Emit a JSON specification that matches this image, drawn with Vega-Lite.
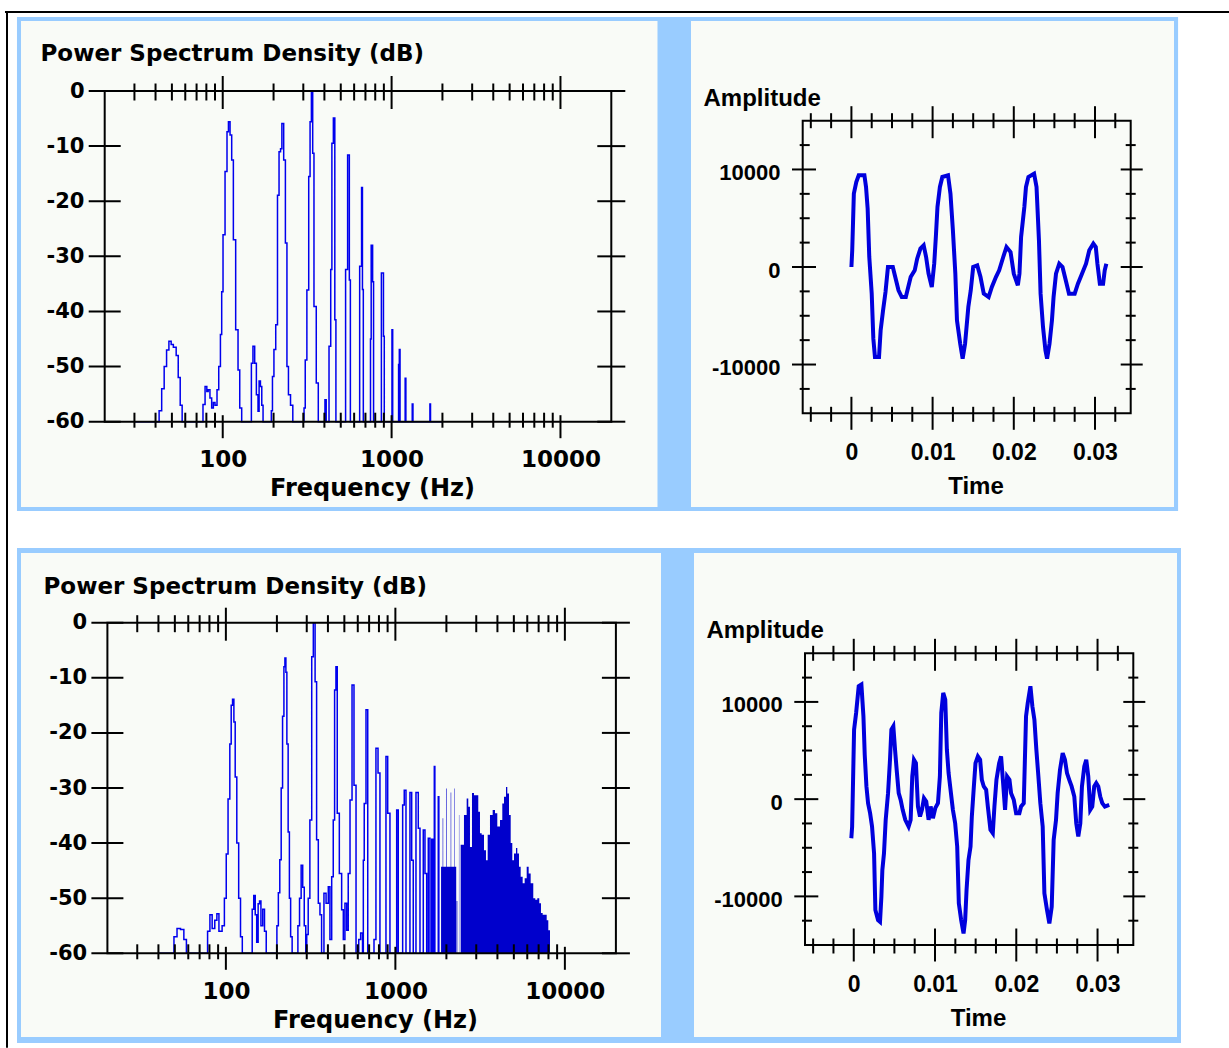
{
"$schema":"https://vega.github.io/schema/vega-lite/v6.json",
"width":1229,"height":1048,"padding":0,"autosize":{"type":"none"},"background":"white",
"config":{"view":{"stroke":null},"axis":{"grid":false,"domain":false,"ticks":false,"labelColor":"black","titleColor":"black","labelFlush":false,"labelOverlap":false,"labelBound":false,"labelFontWeight":"bold","titleFontWeight":"bold"}},
"datasets":{
"psd1":[{"f":30,"db":-60},{"f":42,"db":-58},{"f":43.5,"db":-54},{"f":45,"db":-50},{"f":46.5,"db":-47},{"f":48,"db":-45.4},{"f":49.5,"db":-46},{"f":51,"db":-46.5},{"f":53,"db":-48},{"f":54.5,"db":-52},{"f":56,"db":-57},{"f":57.5,"db":-60},{"f":76.4,"db":-56.9},{"f":78.6,"db":-53.6},{"f":80.5,"db":-54.5},{"f":82,"db":-54.2},{"f":84,"db":-55.7},{"f":86,"db":-57.5},{"f":88,"db":-56.5},{"f":90,"db":-57},{"f":92.5,"db":-54.2},{"f":94.7,"db":-50},{"f":96.9,"db":-44.2},{"f":98.6,"db":-36.4},{"f":100.4,"db":-26.1},{"f":103.2,"db":-14.6},{"f":106,"db":-7.4},{"f":108.1,"db":-5.6},{"f":110.5,"db":-8},{"f":113,"db":-12.5},{"f":115.6,"db":-27},{"f":119.3,"db":-43.3},{"f":123.2,"db":-50.6},{"f":126.1,"db":-57.5},{"f":129.5,"db":-60},{"f":147.8,"db":-49.4},{"f":151,"db":-46.3},{"f":154.6,"db":-49.4},{"f":158.2,"db":-55.1},{"f":161.8,"db":-58.1},{"f":164.2,"db":-52.6},{"f":167.2,"db":-53.6},{"f":170.3,"db":-57},{"f":173.3,"db":-60},{"f":194,"db":-58},{"f":197,"db":-51.8},{"f":201,"db":-46.9},{"f":206,"db":-42.4},{"f":211,"db":-18.9},{"f":215.5,"db":-11},{"f":220,"db":-10.5},{"f":224,"db":-5.9},{"f":229.6,"db":-12.5},{"f":235,"db":-27.6},{"f":240,"db":-50},{"f":245,"db":-55.1},{"f":252,"db":-57},{"f":260,"db":-60},{"f":303,"db":-57.5},{"f":308,"db":-48.8},{"f":315,"db":-36.1},{"f":323,"db":-15.5},{"f":329,"db":-5.6},{"f":335,"db":0},{"f":341,"db":-11.3},{"f":347,"db":-39.1},{"f":358,"db":-53},{"f":368,"db":-60},{"f":403,"db":-56},{"f":410,"db":-60},{"f":426,"db":-46.3},{"f":436,"db":-32.4},{"f":443,"db":-9.5},{"f":452,"db":-4.9},{"f":461,"db":-41.5},{"f":468,"db":-60},{"f":534,"db":-32.4},{"f":549,"db":-11.6},{"f":562,"db":-34.3},{"f":570,"db":-60},{"f":647,"db":-31.8},{"f":664,"db":-17.5},{"f":672,"db":-36},{"f":680,"db":-60},{"f":750,"db":-45},{"f":757,"db":-28},{"f":772,"db":-34.6},{"f":782,"db":-60},{"f":870,"db":-33},{"f":895,"db":-44.5},{"f":905,"db":-60},{"f":1005,"db":-43.3},{"f":1015,"db":-60},{"f":1100,"db":-49.6},{"f":1111,"db":-46.9},{"f":1122,"db":-60},{"f":1203,"db":-52.1},{"f":1215,"db":-60},{"f":1325,"db":-56.8},{"f":1338,"db":-60},{"f":1686,"db":-56.8},{"f":1700,"db":-60},{"f":2000,"db":-60}],
"psd2":[{"f":40,"db":-60},{"f":49.4,"db":-57},{"f":51.5,"db":-55.5},{"f":54,"db":-55.7},{"f":56.5,"db":-57.5},{"f":58.5,"db":-60},{"f":78,"db":-56},{"f":80.5,"db":-53},{"f":83,"db":-55.5},{"f":86,"db":-54},{"f":88.5,"db":-52.8},{"f":91,"db":-56},{"f":95,"db":-55},{"f":98,"db":-50},{"f":100.5,"db":-42},{"f":103,"db":-32},{"f":105.5,"db":-22},{"f":107.5,"db":-15},{"f":109.5,"db":-13.9},{"f":111.5,"db":-18},{"f":113.5,"db":-28},{"f":116,"db":-40},{"f":119,"db":-50},{"f":122,"db":-57},{"f":125,"db":-60},{"f":143,"db":-52},{"f":146,"db":-49.5},{"f":149,"db":-53},{"f":152,"db":-58},{"f":155,"db":-51},{"f":158,"db":-50.5},{"f":161,"db":-55},{"f":165,"db":-52},{"f":169,"db":-56},{"f":173,"db":-60},{"f":200,"db":-55},{"f":204,"db":-49},{"f":208,"db":-43},{"f":212,"db":-30},{"f":216,"db":-17},{"f":220,"db":-8},{"f":223,"db":-6.4},{"f":226,"db":-9},{"f":229,"db":-22},{"f":233,"db":-38},{"f":237,"db":-50},{"f":241,"db":-57},{"f":246,"db":-60},{"f":266,"db":-55},{"f":272,"db":-50},{"f":278,"db":-44},{"f":284,"db":-48},{"f":290,"db":-55},{"f":296,"db":-60},{"f":300,"db":-56.6},{"f":306,"db":-50},{"f":313,"db":-35.8},{"f":321,"db":-6.2},{"f":328,"db":0},{"f":336,"db":-10.7},{"f":343,"db":-39.4},{"f":351,"db":-50.9},{"f":359,"db":-53},{"f":367,"db":-60},{"f":379,"db":-49.1},{"f":390,"db":-50.9},{"f":402,"db":-47.9},{"f":411,"db":-57.5},{"f":421,"db":-46.1},{"f":430,"db":-35.8},{"f":438,"db":-12.2},{"f":446,"db":-8},{"f":454,"db":-34.6},{"f":467,"db":-45.5},{"f":482,"db":-52.1},{"f":493,"db":-57.5},{"f":504,"db":-50.9},{"f":516,"db":-55.8},{"f":527,"db":-45.5},{"f":540,"db":-32.2},{"f":555,"db":-11.3},{"f":570,"db":-29.5},{"f":586,"db":-60},{"f":608,"db":-57.5},{"f":624,"db":-56.3},{"f":640,"db":-60},{"f":647,"db":-43.1},{"f":655,"db":-32.8},{"f":671,"db":-15.8},{"f":687,"db":-60},{"f":748,"db":-57.5},{"f":768,"db":-22.8},{"f":790,"db":-27.3},{"f":811,"db":-60},{"f":880,"db":-24.3},{"f":901,"db":-34.6},{"f":929,"db":-60},{"f":1018,"db":-34},{"f":1040,"db":-60},{"f":1104,"db":-33.1},{"f":1128,"db":-30.4},{"f":1155,"db":-60},{"f":1219,"db":-30.8},{"f":1248,"db":-43.1},{"f":1275,"db":-60},{"f":1323,"db":-30.8},{"f":1365,"db":-37.3},{"f":1397,"db":-60},{"f":1461,"db":-37.6},{"f":1495,"db":-45.5},{"f":1530,"db":-60},{"f":1564,"db":-39.1},{"f":1600,"db":-60},{"f":1638,"db":-39.3},{"f":1670,"db":-60},{"f":1697,"db":-26.1},{"f":1710,"db":-60},{"f":1791,"db":-31.6},{"f":1805,"db":-60},{"f":1860,"db":-60}],
"psd2dense":[{"f":1860,"db":-44.3},{"f":1901,"db":-35.5},{"f":1915,"db":-44.3},{"f":1989,"db":-30.1},{"f":2005,"db":-44.3},{"f":2120,"db":-30.8},{"f":2135,"db":-44.3},{"f":2226,"db":-30.1},{"f":2240,"db":-44.3},{"f":2285,"db":-60},{"f":2299,"db":-50.5},{"f":2320,"db":-60},{"f":2372,"db":-34.9},{"f":2382,"db":-60},{"f":2428,"db":-40.3},{"f":2461,"db":-40.3},{"f":2539,"db":-34.9},{"f":2634,"db":-31.9},{"f":2692,"db":-33.4},{"f":2755,"db":-40.7},{"f":2831,"db":-30.9},{"f":2909,"db":-31.3},{"f":2989,"db":-31.3},{"f":3084,"db":-34.3},{"f":3156,"db":-38.2},{"f":3229,"db":-38.5},{"f":3333,"db":-41.3},{"f":3424,"db":-43.1},{"f":3504,"db":-38.5},{"f":3615,"db":-34.9},{"f":3750,"db":-34.0},{"f":3870,"db":-34.6},{"f":3993,"db":-37.0},{"f":4142,"db":-35.8},{"f":4274,"db":-32.8},{"f":4373,"db":-31.6},{"f":4494,"db":-29.8},{"f":4574,"db":-31.0},{"f":4681,"db":-34.9},{"f":4790,"db":-40.0},{"f":4896,"db":-43.1},{"f":5010,"db":-41.9},{"f":5148,"db":-40.9},{"f":5240,"db":-41.9},{"f":5361,"db":-44.3},{"f":5486,"db":-46.1},{"f":5636,"db":-47.3},{"f":5792,"db":-46.4},{"f":5953,"db":-44.3},{"f":6114,"db":-45.5},{"f":6283,"db":-47.3},{"f":6510,"db":-50.0},{"f":6690,"db":-50.3},{"f":6875,"db":-50.0},{"f":7063,"db":-50.9},{"f":7228,"db":-52.7},{"f":7396,"db":-53.0},{"f":7603,"db":-53.0},{"f":7812,"db":-54.0},{"f":7985,"db":-55.8},{"f":8170,"db":-60}],
"wave1":[{"t":0,"a":0},{"t":0.0001,"a":1710},{"t":0.0002,"a":4616},{"t":0.0003,"a":7522},{"t":0.0006,"a":8718},{"t":0.0009,"a":9402},{"t":0.0016,"a":9402},{"t":0.0018,"a":8206},{"t":0.002,"a":5983},{"t":0.0022,"a":1026},{"t":0.0025,"a":-2735},{"t":0.0027,"a":-7351},{"t":0.0029,"a":-9231},{"t":0.0034,"a":-9231},{"t":0.0036,"a":-6496},{"t":0.0039,"a":-4445},{"t":0.0042,"a":-2564},{"t":0.0045,"a":0},{"t":0.0051,"a":0},{"t":0.0054,"a":-1026},{"t":0.0058,"a":-2393},{"t":0.0062,"a":-3077},{"t":0.0067,"a":-3077},{"t":0.007,"a":-2051},{"t":0.0073,"a":-1026},{"t":0.0078,"a":-342},{"t":0.0081,"a":855},{"t":0.0085,"a":1880},{"t":0.0089,"a":2222},{"t":0.0092,"a":1026},{"t":0.0095,"a":-684},{"t":0.0099,"a":-2051},{"t":0.0102,"a":342},{"t":0.0104,"a":3077},{"t":0.0106,"a":6154},{"t":0.0109,"a":8206},{"t":0.0112,"a":9231},{"t":0.0119,"a":9402},{"t":0.0122,"a":7522},{"t":0.0125,"a":3761},{"t":0.0128,"a":-684},{"t":0.013,"a":-5470},{"t":0.0134,"a":-7864},{"t":0.0137,"a":-9402},{"t":0.014,"a":-7864},{"t":0.0144,"a":-4103},{"t":0.0147,"a":-2393},{"t":0.015,"a":0},{"t":0.0155,"a":171},{"t":0.0159,"a":-1026},{"t":0.0163,"a":-2735},{"t":0.0169,"a":-3077},{"t":0.0173,"a":-2051},{"t":0.0178,"a":-1026},{"t":0.0182,"a":-342},{"t":0.0187,"a":1026},{"t":0.0191,"a":2051},{"t":0.0196,"a":1539},{"t":0.02,"a":-684},{"t":0.0205,"a":-1880},{"t":0.0207,"a":-684},{"t":0.0209,"a":3077},{"t":0.0213,"a":6154},{"t":0.0215,"a":8206},{"t":0.0218,"a":9231},{"t":0.0225,"a":9573},{"t":0.0228,"a":8206},{"t":0.0231,"a":2735},{"t":0.0233,"a":-2735},{"t":0.0236,"a":-6154},{"t":0.0239,"a":-8548},{"t":0.0241,"a":-9402},{"t":0.0244,"a":-7864},{"t":0.0247,"a":-5470},{"t":0.0249,"a":-3077},{"t":0.0252,"a":-684},{"t":0.0256,"a":342},{"t":0.026,"a":0},{"t":0.0264,"a":-1368},{"t":0.0268,"a":-2735},{"t":0.0275,"a":-2735},{"t":0.0279,"a":-1710},{"t":0.0284,"a":-684},{"t":0.0289,"a":342},{"t":0.0293,"a":1710},{"t":0.0298,"a":2393},{"t":0.0301,"a":2051},{"t":0.0303,"a":342},{"t":0.0306,"a":-1710},{"t":0.031,"a":-1710},{"t":0.0312,"a":-342},{"t":0.0314,"a":342}],
"wave2":[{"t":-0.0003,"a":-4020},{"t":-0.0002,"a":-2818},{"t":0.00004,"a":7147},{"t":0.00029,"a":8865},{"t":0.00061,"a":11614},{"t":0.00094,"a":11785},{"t":0.00119,"a":8521},{"t":0.00135,"a":4570},{"t":0.00156,"a":1306},{"t":0.00176,"a":-412},{"t":0.00201,"a":-1443},{"t":0.00225,"a":-2818},{"t":0.0025,"a":-5566},{"t":0.00266,"a":-11407},{"t":0.00299,"a":-12438},{"t":0.00323,"a":-12610},{"t":0.0034,"a":-10033},{"t":0.00352,"a":-7284},{"t":0.00372,"a":-5566},{"t":0.00393,"a":-2130},{"t":0.00422,"a":618},{"t":0.00446,"a":4054},{"t":0.00463,"a":7147},{"t":0.00487,"a":7490},{"t":0.00508,"a":5085},{"t":0.00528,"a":3024},{"t":0.00553,"a":618},{"t":0.00577,"a":-69},{"t":0.00602,"a":-1100},{"t":0.00634,"a":-2130},{"t":0.00675,"a":-2818},{"t":0.007,"a":-2130},{"t":0.0072,"a":2336},{"t":0.00741,"a":4054},{"t":0.00765,"a":3711},{"t":0.0079,"a":-756},{"t":0.00815,"a":-1787},{"t":0.00839,"a":-1100},{"t":0.00864,"a":103},{"t":0.00892,"a":-241},{"t":0.00921,"a":-2130},{"t":0.00946,"a":-756},{"t":0.00974,"a":-1958},{"t":0.01003,"a":-928},{"t":0.01036,"a":-412},{"t":0.0106,"a":2336},{"t":0.01077,"a":8865},{"t":0.01101,"a":10927},{"t":0.01126,"a":10240},{"t":0.01146,"a":5085},{"t":0.01167,"a":2680},{"t":0.01191,"a":962},{"t":0.0122,"a":-1100},{"t":0.01248,"a":-2474},{"t":0.01273,"a":-4879},{"t":0.01293,"a":-10720},{"t":0.01322,"a":-12438},{"t":0.01351,"a":-13813},{"t":0.01371,"a":-12438},{"t":0.01388,"a":-9346},{"t":0.01412,"a":-6254},{"t":0.01437,"a":-4879},{"t":0.01453,"a":-1787},{"t":0.01478,"a":1306},{"t":0.01498,"a":3711},{"t":0.01527,"a":4398},{"t":0.01555,"a":4054},{"t":0.01576,"a":1993},{"t":0.016,"a":1306},{"t":0.01629,"a":962},{"t":0.0165,"a":-756},{"t":0.01682,"a":-3161},{"t":0.01711,"a":-3505},{"t":0.01731,"a":-756},{"t":0.01756,"a":1993},{"t":0.01789,"a":3711},{"t":0.01813,"a":4398},{"t":0.01838,"a":1649},{"t":0.01862,"a":-1100},{"t":0.01887,"a":2336},{"t":0.01916,"a":1993},{"t":0.01936,"a":618},{"t":0.01969,"a":-69},{"t":0.01998,"a":-1443},{"t":0.02038,"a":-1443},{"t":0.02059,"a":-756},{"t":0.02092,"a":-412},{"t":0.0212,"a":8521},{"t":0.02141,"a":9896},{"t":0.02174,"a":11614},{"t":0.02198,"a":9552},{"t":0.02223,"a":8178},{"t":0.02247,"a":5085},{"t":0.02272,"a":2336},{"t":0.02296,"a":-412},{"t":0.02325,"a":-2818},{"t":0.02346,"a":-9689},{"t":0.02378,"a":-11407},{"t":0.02407,"a":-12782},{"t":0.02436,"a":-11064},{"t":0.0246,"a":-4192},{"t":0.02489,"a":-2130},{"t":0.02509,"a":618},{"t":0.02538,"a":3024},{"t":0.02571,"a":4742},{"t":0.02599,"a":4054},{"t":0.02624,"a":2680},{"t":0.02652,"a":1993},{"t":0.02681,"a":1306},{"t":0.02714,"a":275},{"t":0.02738,"a":-2474},{"t":0.02763,"a":-3848},{"t":0.02788,"a":-2474},{"t":0.02808,"a":1306},{"t":0.02837,"a":3367},{"t":0.02861,"a":4054},{"t":0.02886,"a":2336},{"t":0.0291,"a":-1100},{"t":0.02935,"a":-756},{"t":0.02959,"a":1306},{"t":0.02984,"a":1649},{"t":0.03009,"a":1306},{"t":0.03033,"a":275},{"t":0.03058,"a":-412},{"t":0.0309,"a":-756},{"t":0.03144,"a":-584}],
"logMinor":[{"f":30},{"f":40},{"f":50},{"f":60},{"f":70},{"f":80},{"f":90},{"f":200},{"f":300},{"f":400},{"f":500},{"f":600},{"f":700},{"f":800},{"f":900},{"f":2000},{"f":3000},{"f":4000},{"f":5000},{"f":6000},{"f":7000},{"f":8000},{"f":9000}],
"logMajor":[{"f":100},{"f":1000},{"f":10000}],
"dbTicks":[{"db":0},{"db":-10},{"db":-20},{"db":-30},{"db":-40},{"db":-50},{"db":-60}],
"tMajor":[{"t":0},{"t":0.01},{"t":0.02},{"t":0.03}],
"tMinor":[{"t":-0.005},{"t":-0.0025},{"t":0.0025},{"t":0.005},{"t":0.0075},{"t":0.0125},{"t":0.015},{"t":0.0175},{"t":0.0225},{"t":0.025},{"t":0.0275},{"t":0.0325}],
"aMajor":[{"a":-10000},{"a":0},{"a":10000}],
"aMinor":[{"a":-12500},{"a":-7500},{"a":-5000},{"a":-2500},{"a":2500},{"a":5000},{"a":7500},{"a":12500}]
},
"resolve":{"scale":{"x":"independent","y":"independent"},"axis":{"x":"independent","y":"independent"}},
"layer":[
{"layer":[
{"data":{"values":[{}]},"mark":{"type":"rect","fill":"#99ccff"},"encoding":{"x":{"datum":6.048,"type":"quantitative","scale":{"type":"log","domain":[20,20000],"range":[104.7,611.3],"nice":false}},"x2":{"datum":45440000},"y":{"datum":13.43,"type":"quantitative","scale":{"domain":[-60,0],"range":[421.7,91],"nice":false,"zero":false}},"y2":{"datum":-76.2}}},
{"data":{"values":[{}]},"mark":{"type":"rect","fill":"#f9fbf7"},"encoding":{"x":{"datum":6.389,"type":"quantitative","scale":{"type":"log","domain":[20,20000],"range":[104.7,611.3],"nice":false}},"x2":{"datum":37545},"y":{"datum":12.7,"type":"quantitative","scale":{"domain":[-60,0],"range":[421.7,91],"nice":false,"zero":false}},"y2":{"datum":-75.48}}},
{"data":{"values":[{}]},"mark":{"type":"rule","color":"black","strokeWidth":2},"encoding":{"x":{"datum":5.135,"type":"quantitative","scale":{"type":"log","domain":[20,20000],"range":[104.7,611.3],"nice":false}},"x2":{"datum":91000000},"y":{"datum":14.33,"type":"quantitative","scale":{"domain":[-60,0],"range":[421.7,91],"nice":false,"zero":false}}}},
{"data":{"values":[{}]},"mark":{"type":"rule","color":"black","strokeWidth":2},"encoding":{"x":{"datum":5.278,"type":"quantitative","scale":{"type":"log","domain":[20,20000],"range":[104.7,611.3],"nice":false}},"y":{"datum":14.51,"type":"quantitative","scale":{"domain":[-60,0],"range":[421.7,91],"nice":false,"zero":false}},"y2":{"datum":-173.6}}},
{"data":{"name":"psd1"},"mark":{"type":"line","interpolate":"step-after","color":"#0000ee","strokeWidth":1.5},"encoding":{"x":{"field":"f","type":"quantitative","scale":{"type":"log","domain":[20,20000],"range":[104.7,611.3],"nice":false},"axis":{"zindex":2,"orient":"bottom","offset":-626.3,"values":[100,1000,10000],"labelExpr":"toString(datum.value)","labelFont":"DejaVu Sans","labelFontSize":23,"labelPadding":27,"labelBaseline":"top","labelAlign":"center","title":"Frequency (Hz)","titleFont":"DejaVu Sans","titleFontSize":24,"titleX":372,"titleY":74,"titleAlign":"center","titleBaseline":"alphabetic","titleAngle":0}},"y":{"field":"db","type":"quantitative","scale":{"domain":[-60,0],"range":[421.7,91],"nice":false,"zero":false},"axis":{"zindex":2,"orient":"left","offset":-104.7,"values":[0,-10,-20,-30,-40,-50,-60],"labelExpr":"toString(datum.value)","labelFont":"DejaVu Sans","labelFontSize":21,"labelPadding":20.7,"labelAlign":"right","labelBaseline":"middle","title":"Power Spectrum Density (dB)","titleFont":"DejaVu Sans","titleFontSize":23,"titleAngle":0,"titleX":-64.7,"titleY":60,"titleAlign":"left","titleBaseline":"alphabetic"}}}},
{"data":{"values":[{}]},"mark":{"type":"rect","fillOpacity":0,"stroke":"black","strokeWidth":2},"encoding":{"x":{"datum":20,"type":"quantitative","scale":{"type":"log","domain":[20,20000],"range":[104.7,611.3],"nice":false}},"x2":{"datum":20000},"y":{"datum":-60,"type":"quantitative","scale":{"domain":[-60,0],"range":[421.7,91],"nice":false,"zero":false}},"y2":{"datum":0}}},
{"data":{"name":"dbTicks"},"mark":{"type":"tick","orient":"horizontal","size":32,"thickness":2,"color":"black","opacity":1},"encoding":{"x":{"datum":20,"type":"quantitative","scale":{"type":"log","domain":[20,20000],"range":[104.7,611.3],"nice":false}},"y":{"field":"db","type":"quantitative","scale":{"domain":[-60,0],"range":[421.7,91],"nice":false,"zero":false}}}},
{"data":{"name":"dbTicks"},"mark":{"type":"tick","orient":"horizontal","size":28,"thickness":2,"color":"black","opacity":1},"encoding":{"x":{"datum":20000,"type":"quantitative","scale":{"type":"log","domain":[20,20000],"range":[104.7,611.3],"nice":false}},"y":{"field":"db","type":"quantitative","scale":{"domain":[-60,0],"range":[421.7,91],"nice":false,"zero":false}}}},
{"data":{"name":"logMinor"},"mark":{"type":"tick","orient":"vertical","size":17,"thickness":2,"color":"black","opacity":1,"yOffset":1},"encoding":{"x":{"field":"f","type":"quantitative","scale":{"type":"log","domain":[20,20000],"range":[104.7,611.3],"nice":false}},"y":{"datum":0,"type":"quantitative","scale":{"domain":[-60,0],"range":[421.7,91],"nice":false,"zero":false}}}},
{"data":{"name":"logMajor"},"mark":{"type":"tick","orient":"vertical","size":33,"thickness":2,"color":"black","opacity":1,"yOffset":1.5},"encoding":{"x":{"field":"f","type":"quantitative","scale":{"type":"log","domain":[20,20000],"range":[104.7,611.3],"nice":false}},"y":{"datum":0,"type":"quantitative","scale":{"domain":[-60,0],"range":[421.7,91],"nice":false,"zero":false}}}},
{"data":{"name":"logMinor"},"mark":{"type":"tick","orient":"vertical","size":15,"thickness":2,"color":"black","opacity":1,"yOffset":-1.5},"encoding":{"x":{"field":"f","type":"quantitative","scale":{"type":"log","domain":[20,20000],"range":[104.7,611.3],"nice":false}},"y":{"datum":-60,"type":"quantitative","scale":{"domain":[-60,0],"range":[421.7,91],"nice":false,"zero":false}}}},
{"data":{"name":"logMajor"},"mark":{"type":"tick","orient":"vertical","size":23,"thickness":2,"color":"black","opacity":1,"yOffset":5},"encoding":{"x":{"field":"f","type":"quantitative","scale":{"type":"log","domain":[20,20000],"range":[104.7,611.3],"nice":false}},"y":{"datum":-60,"type":"quantitative","scale":{"domain":[-60,0],"range":[421.7,91],"nice":false,"zero":false}}}}
]},
{"layer":[
{"data":{"values":[{}]},"mark":{"type":"rect","fill":"#f9fbf7"},"encoding":{"x":{"datum":-0.019758,"type":"quantitative","scale":{"domain":[-0.006,0.0344],"range":[802.7,1130.7],"nice":false,"zero":false}},"x2":{"datum":0.039733},"y":{"datum":25222,"type":"quantitative","scale":{"domain":[-15000,15000],"range":[413.3,120.7],"nice":false,"zero":false}},"y2":{"datum":-24607}}},
{"data":{"name":"wave1"},"mark":{"type":"line","color":"#0000dd","strokeWidth":4},"encoding":{"x":{"field":"t","type":"quantitative","scale":{"domain":[-0.006,0.0344],"range":[802.7,1130.7],"nice":false,"zero":false},"axis":{"zindex":2,"orient":"bottom","offset":-634.7,"values":[0,0.01,0.02,0.03],"labelExpr":"toString(datum.value)","labelFont":"Liberation Sans","labelFontSize":23,"labelPadding":28.3,"labelBaseline":"top","labelAlign":"center","title":"Time","titleFont":"Liberation Sans","titleFontSize":24,"titleX":975.5,"titleY":80,"titleAlign":"center","titleBaseline":"alphabetic","titleAngle":0}},"y":{"field":"a","type":"quantitative","scale":{"domain":[-15000,15000],"range":[413.3,120.7],"nice":false,"zero":false},"axis":{"zindex":2,"orient":"left","offset":-802.7,"values":[-10000,0,10000],"labelExpr":"toString(datum.value)","labelFont":"Liberation Sans","labelFontSize":22,"labelPadding":22.7,"labelOffset":3,"labelAlign":"right","labelBaseline":"middle","title":"Amplitude","titleFont":"Liberation Sans","titleFontSize":24,"titleAngle":0,"titleX":-99.7,"titleY":105,"titleAlign":"left","titleBaseline":"alphabetic"}}}},
{"data":{"values":[{}]},"mark":{"type":"rect","fillOpacity":0,"stroke":"black","strokeWidth":2},"encoding":{"x":{"datum":-0.006,"type":"quantitative","scale":{"domain":[-0.006,0.0344],"range":[802.7,1130.7],"nice":false,"zero":false}},"x2":{"datum":0.0344},"y":{"datum":-15000,"type":"quantitative","scale":{"domain":[-15000,15000],"range":[413.3,120.7],"nice":false,"zero":false}},"y2":{"datum":15000}}},
{"data":{"name":"tMajor"},"mark":{"type":"tick","orient":"vertical","size":32,"thickness":2,"color":"black","opacity":1,"yOffset":1.5},"encoding":{"x":{"field":"t","type":"quantitative","scale":{"domain":[-0.006,0.0344],"range":[802.7,1130.7],"nice":false,"zero":false}},"y":{"datum":15000,"type":"quantitative","scale":{"domain":[-15000,15000],"range":[413.3,120.7],"nice":false,"zero":false}}}},
{"data":{"name":"tMinor"},"mark":{"type":"tick","orient":"vertical","size":15,"thickness":2,"color":"black","opacity":1},"encoding":{"x":{"field":"t","type":"quantitative","scale":{"domain":[-0.006,0.0344],"range":[802.7,1130.7],"nice":false,"zero":false}},"y":{"datum":15000,"type":"quantitative","scale":{"domain":[-15000,15000],"range":[413.3,120.7],"nice":false,"zero":false}}}},
{"data":{"name":"tMajor"},"mark":{"type":"tick","orient":"vertical","size":33,"thickness":2,"color":"black","opacity":1},"encoding":{"x":{"field":"t","type":"quantitative","scale":{"domain":[-0.006,0.0344],"range":[802.7,1130.7],"nice":false,"zero":false}},"y":{"datum":-15000,"type":"quantitative","scale":{"domain":[-15000,15000],"range":[413.3,120.7],"nice":false,"zero":false}}}},
{"data":{"name":"tMinor"},"mark":{"type":"tick","orient":"vertical","size":15,"thickness":2,"color":"black","opacity":1,"yOffset":1},"encoding":{"x":{"field":"t","type":"quantitative","scale":{"domain":[-0.006,0.0344],"range":[802.7,1130.7],"nice":false,"zero":false}},"y":{"datum":-15000,"type":"quantitative","scale":{"domain":[-15000,15000],"range":[413.3,120.7],"nice":false,"zero":false}}}},
{"data":{"name":"aMajor"},"mark":{"type":"tick","orient":"horizontal","size":24,"thickness":2,"color":"black","opacity":1,"xOffset":1.3},"encoding":{"x":{"datum":-0.006,"type":"quantitative","scale":{"domain":[-0.006,0.0344],"range":[802.7,1130.7],"nice":false,"zero":false}},"y":{"field":"a","type":"quantitative","scale":{"domain":[-15000,15000],"range":[413.3,120.7],"nice":false,"zero":false}}}},
{"data":{"name":"aMinor"},"mark":{"type":"tick","orient":"horizontal","size":10,"thickness":2,"color":"black","opacity":1,"xOffset":2},"encoding":{"x":{"datum":-0.006,"type":"quantitative","scale":{"domain":[-0.006,0.0344],"range":[802.7,1130.7],"nice":false,"zero":false}},"y":{"field":"a","type":"quantitative","scale":{"domain":[-15000,15000],"range":[413.3,120.7],"nice":false,"zero":false}}}},
{"data":{"name":"aMajor"},"mark":{"type":"tick","orient":"horizontal","size":22,"thickness":2,"color":"black","opacity":1,"xOffset":1},"encoding":{"x":{"datum":0.0344,"type":"quantitative","scale":{"domain":[-0.006,0.0344],"range":[802.7,1130.7],"nice":false,"zero":false}},"y":{"field":"a","type":"quantitative","scale":{"domain":[-15000,15000],"range":[413.3,120.7],"nice":false,"zero":false}}}},
{"data":{"name":"aMinor"},"mark":{"type":"tick","orient":"horizontal","size":10,"thickness":2,"color":"black","opacity":1},"encoding":{"x":{"datum":0.0344,"type":"quantitative","scale":{"domain":[-0.006,0.0344],"range":[802.7,1130.7],"nice":false,"zero":false}},"y":{"field":"a","type":"quantitative","scale":{"domain":[-15000,15000],"range":[413.3,120.7],"nice":false,"zero":false}}}}
]},
{"layer":[
{"data":{"values":[{}]},"mark":{"type":"rect","fill":"#99ccff"},"encoding":{"x":{"datum":5.858,"type":"quantitative","scale":{"type":"log","domain":[20,20000],"range":[107.4,615.9],"nice":false}},"x2":{"datum":43130000},"y":{"datum":13.56,"type":"quantitative","scale":{"domain":[-60,0],"range":[953.3,622.7],"nice":false,"zero":false}},"y2":{"datum":-76.28}}},
{"data":{"values":[{}]},"mark":{"type":"rect","fill":"#f9fbf7"},"encoding":{"x":{"datum":6.184,"type":"quantitative","scale":{"type":"log","domain":[20,20000],"range":[107.4,615.9],"nice":false}},"x2":{"datum":36910},"y":{"datum":12.65,"type":"quantitative","scale":{"domain":[-60,0],"range":[953.3,622.7],"nice":false,"zero":false}},"y2":{"datum":-75.19}}},
{"data":{"name":"psd2dense"},"mark":{"type":"area","interpolate":"step-after","color":"#0000cc"},"encoding":{"x":{"field":"f","type":"quantitative","scale":{"type":"log","domain":[20,20000],"range":[107.4,615.9],"nice":false}},"y":{"field":"db","type":"quantitative","scale":{"domain":[-60,0],"range":[953.3,622.7],"nice":false,"zero":false}},"y2":{"datum":-60}}},
{"data":{"name":"psd2"},"mark":{"type":"line","interpolate":"step-after","color":"#0000ee","strokeWidth":1.5},"encoding":{"x":{"field":"f","type":"quantitative","scale":{"type":"log","domain":[20,20000],"range":[107.4,615.9],"nice":false},"axis":{"zindex":2,"orient":"bottom","offset":-94.7,"values":[100,1000,10000],"labelExpr":"toString(datum.value)","labelFont":"DejaVu Sans","labelFontSize":23,"labelPadding":27,"labelBaseline":"top","labelAlign":"center","title":"Frequency (Hz)","titleFont":"DejaVu Sans","titleFontSize":24,"titleX":375,"titleY":74,"titleAlign":"center","titleBaseline":"alphabetic","titleAngle":0}},"y":{"field":"db","type":"quantitative","scale":{"domain":[-60,0],"range":[953.3,622.7],"nice":false,"zero":false},"axis":{"zindex":2,"orient":"left","offset":-107.4,"values":[0,-10,-20,-30,-40,-50,-60],"labelExpr":"toString(datum.value)","labelFont":"DejaVu Sans","labelFontSize":21,"labelPadding":20.7,"labelAlign":"right","labelBaseline":"middle","title":"Power Spectrum Density (dB)","titleFont":"DejaVu Sans","titleFontSize":23,"titleAngle":0,"titleX":-64.4,"titleY":593,"titleAlign":"left","titleBaseline":"alphabetic"}}}},
{"data":{"values":[{}]},"mark":{"type":"rect","fillOpacity":0,"stroke":"black","strokeWidth":2},"encoding":{"x":{"datum":20,"type":"quantitative","scale":{"type":"log","domain":[20,20000],"range":[107.4,615.9],"nice":false}},"x2":{"datum":20000},"y":{"datum":-60,"type":"quantitative","scale":{"domain":[-60,0],"range":[953.3,622.7],"nice":false,"zero":false}},"y2":{"datum":0}}},
{"data":{"name":"dbTicks"},"mark":{"type":"tick","orient":"horizontal","size":32,"thickness":2,"color":"black","opacity":1},"encoding":{"x":{"datum":20,"type":"quantitative","scale":{"type":"log","domain":[20,20000],"range":[107.4,615.9],"nice":false}},"y":{"field":"db","type":"quantitative","scale":{"domain":[-60,0],"range":[953.3,622.7],"nice":false,"zero":false}}}},
{"data":{"name":"dbTicks"},"mark":{"type":"tick","orient":"horizontal","size":28,"thickness":2,"color":"black","opacity":1},"encoding":{"x":{"datum":20000,"type":"quantitative","scale":{"type":"log","domain":[20,20000],"range":[107.4,615.9],"nice":false}},"y":{"field":"db","type":"quantitative","scale":{"domain":[-60,0],"range":[953.3,622.7],"nice":false,"zero":false}}}},
{"data":{"name":"logMinor"},"mark":{"type":"tick","orient":"vertical","size":17,"thickness":2,"color":"black","opacity":1,"yOffset":1},"encoding":{"x":{"field":"f","type":"quantitative","scale":{"type":"log","domain":[20,20000],"range":[107.4,615.9],"nice":false}},"y":{"datum":0,"type":"quantitative","scale":{"domain":[-60,0],"range":[953.3,622.7],"nice":false,"zero":false}}}},
{"data":{"name":"logMajor"},"mark":{"type":"tick","orient":"vertical","size":33,"thickness":2,"color":"black","opacity":1,"yOffset":1.5},"encoding":{"x":{"field":"f","type":"quantitative","scale":{"type":"log","domain":[20,20000],"range":[107.4,615.9],"nice":false}},"y":{"datum":0,"type":"quantitative","scale":{"domain":[-60,0],"range":[953.3,622.7],"nice":false,"zero":false}}}},
{"data":{"name":"logMinor"},"mark":{"type":"tick","orient":"vertical","size":15,"thickness":2,"color":"black","opacity":1,"yOffset":-1.5},"encoding":{"x":{"field":"f","type":"quantitative","scale":{"type":"log","domain":[20,20000],"range":[107.4,615.9],"nice":false}},"y":{"datum":-60,"type":"quantitative","scale":{"domain":[-60,0],"range":[953.3,622.7],"nice":false,"zero":false}}}},
{"data":{"name":"logMajor"},"mark":{"type":"tick","orient":"vertical","size":23,"thickness":2,"color":"black","opacity":1,"yOffset":5},"encoding":{"x":{"field":"f","type":"quantitative","scale":{"type":"log","domain":[20,20000],"range":[107.4,615.9],"nice":false}},"y":{"datum":-60,"type":"quantitative","scale":{"domain":[-60,0],"range":[953.3,622.7],"nice":false,"zero":false}}}}
]},
{"layer":[
{"data":{"values":[{}]},"mark":{"type":"rect","fill":"#f9fbf7"},"encoding":{"x":{"datum":-0.019659,"type":"quantitative","scale":{"domain":[-0.006,0.0344],"range":[805,1133.3],"nice":false,"zero":false}},"x2":{"datum":0.039778},"y":{"datum":25315,"type":"quantitative","scale":{"domain":[-15000,15000],"range":[945,653.3],"nice":false,"zero":false}},"y2":{"datum":-24462}}},
{"data":{"name":"wave2"},"mark":{"type":"line","color":"#0000dd","strokeWidth":4},"encoding":{"x":{"field":"t","type":"quantitative","scale":{"domain":[-0.006,0.0344],"range":[805,1133.3],"nice":false,"zero":false},"axis":{"zindex":2,"orient":"bottom","offset":-103,"values":[0,0.01,0.02,0.03],"labelExpr":"toString(datum.value)","labelFont":"Liberation Sans","labelFontSize":23,"labelPadding":28.3,"labelBaseline":"top","labelAlign":"center","title":"Time","titleFont":"Liberation Sans","titleFontSize":24,"titleX":978,"titleY":80,"titleAlign":"center","titleBaseline":"alphabetic","titleAngle":0}},"y":{"field":"a","type":"quantitative","scale":{"domain":[-15000,15000],"range":[945,653.3],"nice":false,"zero":false},"axis":{"zindex":2,"orient":"left","offset":-805,"values":[-10000,0,10000],"labelExpr":"toString(datum.value)","labelFont":"Liberation Sans","labelFontSize":22,"labelPadding":22.7,"labelOffset":3,"labelAlign":"right","labelBaseline":"middle","title":"Amplitude","titleFont":"Liberation Sans","titleFontSize":24,"titleAngle":0,"titleX":-99,"titleY":637,"titleAlign":"left","titleBaseline":"alphabetic"}}}},
{"data":{"values":[{}]},"mark":{"type":"rect","fillOpacity":0,"stroke":"black","strokeWidth":2},"encoding":{"x":{"datum":-0.006,"type":"quantitative","scale":{"domain":[-0.006,0.0344],"range":[805,1133.3],"nice":false,"zero":false}},"x2":{"datum":0.0344},"y":{"datum":-15000,"type":"quantitative","scale":{"domain":[-15000,15000],"range":[945,653.3],"nice":false,"zero":false}},"y2":{"datum":15000}}},
{"data":{"name":"tMajor"},"mark":{"type":"tick","orient":"vertical","size":32,"thickness":2,"color":"black","opacity":1,"yOffset":1.5},"encoding":{"x":{"field":"t","type":"quantitative","scale":{"domain":[-0.006,0.0344],"range":[805,1133.3],"nice":false,"zero":false}},"y":{"datum":15000,"type":"quantitative","scale":{"domain":[-15000,15000],"range":[945,653.3],"nice":false,"zero":false}}}},
{"data":{"name":"tMinor"},"mark":{"type":"tick","orient":"vertical","size":15,"thickness":2,"color":"black","opacity":1},"encoding":{"x":{"field":"t","type":"quantitative","scale":{"domain":[-0.006,0.0344],"range":[805,1133.3],"nice":false,"zero":false}},"y":{"datum":15000,"type":"quantitative","scale":{"domain":[-15000,15000],"range":[945,653.3],"nice":false,"zero":false}}}},
{"data":{"name":"tMajor"},"mark":{"type":"tick","orient":"vertical","size":33,"thickness":2,"color":"black","opacity":1},"encoding":{"x":{"field":"t","type":"quantitative","scale":{"domain":[-0.006,0.0344],"range":[805,1133.3],"nice":false,"zero":false}},"y":{"datum":-15000,"type":"quantitative","scale":{"domain":[-15000,15000],"range":[945,653.3],"nice":false,"zero":false}}}},
{"data":{"name":"tMinor"},"mark":{"type":"tick","orient":"vertical","size":15,"thickness":2,"color":"black","opacity":1,"yOffset":1},"encoding":{"x":{"field":"t","type":"quantitative","scale":{"domain":[-0.006,0.0344],"range":[805,1133.3],"nice":false,"zero":false}},"y":{"datum":-15000,"type":"quantitative","scale":{"domain":[-15000,15000],"range":[945,653.3],"nice":false,"zero":false}}}},
{"data":{"name":"aMajor"},"mark":{"type":"tick","orient":"horizontal","size":24,"thickness":2,"color":"black","opacity":1,"xOffset":1.3},"encoding":{"x":{"datum":-0.006,"type":"quantitative","scale":{"domain":[-0.006,0.0344],"range":[805,1133.3],"nice":false,"zero":false}},"y":{"field":"a","type":"quantitative","scale":{"domain":[-15000,15000],"range":[945,653.3],"nice":false,"zero":false}}}},
{"data":{"name":"aMinor"},"mark":{"type":"tick","orient":"horizontal","size":10,"thickness":2,"color":"black","opacity":1,"xOffset":2},"encoding":{"x":{"datum":-0.006,"type":"quantitative","scale":{"domain":[-0.006,0.0344],"range":[805,1133.3],"nice":false,"zero":false}},"y":{"field":"a","type":"quantitative","scale":{"domain":[-15000,15000],"range":[945,653.3],"nice":false,"zero":false}}}},
{"data":{"name":"aMajor"},"mark":{"type":"tick","orient":"horizontal","size":22,"thickness":2,"color":"black","opacity":1,"xOffset":1},"encoding":{"x":{"datum":0.0344,"type":"quantitative","scale":{"domain":[-0.006,0.0344],"range":[805,1133.3],"nice":false,"zero":false}},"y":{"field":"a","type":"quantitative","scale":{"domain":[-15000,15000],"range":[945,653.3],"nice":false,"zero":false}}}},
{"data":{"name":"aMinor"},"mark":{"type":"tick","orient":"horizontal","size":10,"thickness":2,"color":"black","opacity":1},"encoding":{"x":{"datum":0.0344,"type":"quantitative","scale":{"domain":[-0.006,0.0344],"range":[805,1133.3],"nice":false,"zero":false}},"y":{"field":"a","type":"quantitative","scale":{"domain":[-15000,15000],"range":[945,653.3],"nice":false,"zero":false}}}}
]}
]
}
